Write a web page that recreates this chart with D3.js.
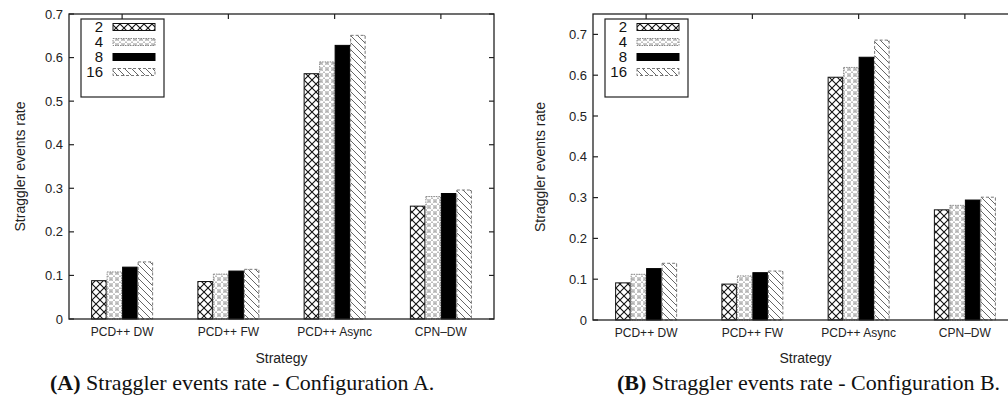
<!DOCTYPE html>
<html>
<head>
<meta charset="utf-8">
<script src="https://cdn.jsdelivr.net/npm/d3@7"></script>
<style>
  body { margin: 0; background: #fff; }
  svg { display: block; }
</style>
</head>
<body>
<svg id="chart" width="1008" height="405"></svg>
<script>
// categories and legend entries
const categories = ["PCD++ DW", "PCD++ FW", "PCD++ Async", "CPN-DW"];
const seriesNames = ["2", "4", "8", "16"];
const yTicks = [0, 0.1, 0.2, 0.3, 0.4, 0.5, 0.6, 0.7];

// Configuration A, one array per series
const a2  = [0.088, 0.086, 0.563, 0.259];
const a4  = [0.108, 0.103, 0.590, 0.281];
const a8  = [0.119, 0.110, 0.628, 0.288];
const a16 = [0.131, 0.114, 0.651, 0.296];

// Configuration B
const b2  = [0.091, 0.088, 0.595, 0.270];
const b4  = [0.112, 0.108, 0.619, 0.281];
const b8  = [0.126, 0.116, 0.644, 0.294];
const b16 = [0.139, 0.120, 0.686, 0.301];

const svg = d3.select("#chart");
const defs = svg.append("defs");
const sans = "Liberation Sans, Arial, sans-serif";

// fill patterns, one per series
const pat = (id, w, draw) => {
  const p = defs.append("pattern").attr("id", id)
    .attr("patternUnits", "userSpaceOnUse")
    .attr("width", w).attr("height", w);
  p.append("rect").attr("width", w).attr("height", w).attr("fill", "#fff");
  draw(p, w);
};
pat("p2", 8, (p, w) => p.append("path")
  .attr("d", `M0,0L${w},${w}M${w},0L0,${w}`)
  .attr("stroke", "#111").attr("stroke-width", 1.1));
pat("p4", 6, (p, w) => {
  p.append("path").attr("d", `M0,0L${w},${w}M${w},0L0,${w}`)
    .attr("stroke", "#999").attr("stroke-width", 0.9).attr("stroke-dasharray", "1,1");
  p.append("circle").attr("cx", w / 2).attr("cy", w / 2).attr("r", 1.3)
    .attr("fill", "none").attr("stroke", "#888").attr("stroke-width", 0.7);
});
pat("p16", 7, (p, w) => p.append("path")
  .attr("d", `M0,0L${w},${w}M-2,${w - 2}L2,${w + 2}M${w - 2},-2L${w + 2},2`)
  .attr("stroke", "#666").attr("stroke-width", 1));

const fills = {"2": "url(#p2)", "4": "url(#p4)", "8": "#000", "16": "url(#p16)"};
const strokes = {"2": "#111", "4": "#888", "8": "#000", "16": "#777"};
const dashes = {"2": null, "4": "1.5,1", "8": null, "16": "3,2"};

function drawPanel(p) {
  const g = svg.append("g");
  const x0 = d3.scaleBand().domain(categories).range([p.left, p.right]);
  const groupW = 62;
  const x1 = d3.scaleBand().domain(seriesNames).range([0, groupW]);
  const y = d3.scaleLinear().domain([0, p.yMax]).range([p.bottom, p.top]);

  // bars
  p.values.forEach((vals, si) => {
    const s = seriesNames[si];
    g.selectAll(null).data(vals).enter().append("rect")
      .attr("x", (d, i) => x0(categories[i]) + (x0.bandwidth() - groupW) / 2 + x1(s) + 0.5)
      .attr("y", d => y(d))
      .attr("width", x1.bandwidth() - 1)
      .attr("height", d => y(0) - y(d))
      .attr("fill", fills[s])
      .attr("stroke", strokes[s])
      .attr("stroke-width", 1)
      .attr("stroke-dasharray", dashes[s]);
  });

  // frame
  g.append("rect").attr("x", p.left).attr("y", p.top)
    .attr("width", p.right - p.left).attr("height", p.bottom - p.top)
    .attr("fill", "none").attr("stroke", "#222").attr("stroke-width", 1.3);

  // y axis, ticks inward on both sides
  const yAxis = g.append("g");
  yTicks.forEach(t => {
    yAxis.append("line").attr("x1", p.left).attr("x2", p.left + 5)
      .attr("y1", y(t)).attr("y2", y(t)).attr("stroke", "#222").attr("stroke-width", 1.2);
    yAxis.append("line").attr("x1", p.right).attr("x2", p.right - 5)
      .attr("y1", y(t)).attr("y2", y(t)).attr("stroke", "#222").attr("stroke-width", 1.2);
    yAxis.append("text").attr("x", p.left - 6).attr("y", y(t)).attr("dy", "0.35em")
      .attr("text-anchor", "end").attr("font-family", sans)
      .attr("font-size", 13).attr("fill", "#222").text(t === 0 ? "0" : d3.format(".1f")(t));
  });

  // x axis, ticks at category centres
  categories.forEach(c => {
    const cx = x0(c) + x0.bandwidth() / 2;
    g.append("line").attr("x1", cx).attr("x2", cx).attr("y1", p.top).attr("y2", p.top + 5)
      .attr("stroke", "#222").attr("stroke-width", 1.2);
    g.append("text").attr("x", cx).attr("y", p.bottom + 13)
      .attr("dy", "0.35em")
      .attr("text-anchor", "middle").attr("font-family", sans)
      .attr("font-size", 12).attr("fill", "#222").text(c.replace("-", "\u2013"));
  });

  // axis titles
  g.append("text").attr("transform", `translate(${p.yLabelX},${(p.top + p.bottom) / 2}) rotate(-90)`)
    .attr("text-anchor", "middle").attr("dy", "0.35em")
    .attr("font-family", sans).attr("font-size", 14)
    .attr("fill", "#222").text("Straggler events rate");
  g.append("text").attr("x", (p.left + p.right) / 2).attr("y", 358).attr("dy", "0.35em")
    .attr("text-anchor", "middle").attr("font-family", sans)
    .attr("font-size", 14).attr("fill", "#222").text("Strategy");

  // legend
  const lx = p.left + 12, ly = 19;
  g.append("rect").attr("x", lx).attr("y", ly).attr("width", 83).attr("height", 78)
    .attr("fill", "#fff").attr("stroke", "#222").attr("stroke-width", 1.2);
  seriesNames.forEach((s, i) => {
    const yy = 27 + i * 15;
    g.append("text").attr("x", lx + 22).attr("y", yy).attr("dy", "0.35em")
      .attr("text-anchor", "end").attr("font-family", sans)
      .attr("font-size", 15).attr("fill", "#111").text(s);
    g.append("rect").attr("x", lx + 32).attr("y", yy - 3.5).attr("width", 42).attr("height", 7)
      .attr("fill", fills[s]).attr("stroke", strokes[s]).attr("stroke-width", 1)
      .attr("stroke-dasharray", dashes[s]);
  });

  // caption
  const cap = g.append("text").attr("x", p.captionX).attr("y", 390)
    .attr("text-anchor", "start").attr("font-family", "Liberation Serif, Times New Roman, serif")
    .attr("font-size", 22).attr("fill", "#111");
  cap.append("tspan").attr("font-weight", "bold").text(p.tag);
  cap.append("tspan").text(" " + p.caption);
}

drawPanel({left: 69, right: 494, top: 14, bottom: 319, yMax: 0.7, yLabelX: 20,
  values: [a2, a4, a8, a16], captionX: 50, tag: "(A)",
  caption: "Straggler events rate - Configuration A."});
drawPanel({left: 593, right: 1018, top: 14, bottom: 320, yMax: 0.75, yLabelX: 540,
  values: [b2, b4, b8, b16], captionX: 617, tag: "(B)",
  caption: "Straggler events rate - Configuration B."});
</script>
</body>
</html>
